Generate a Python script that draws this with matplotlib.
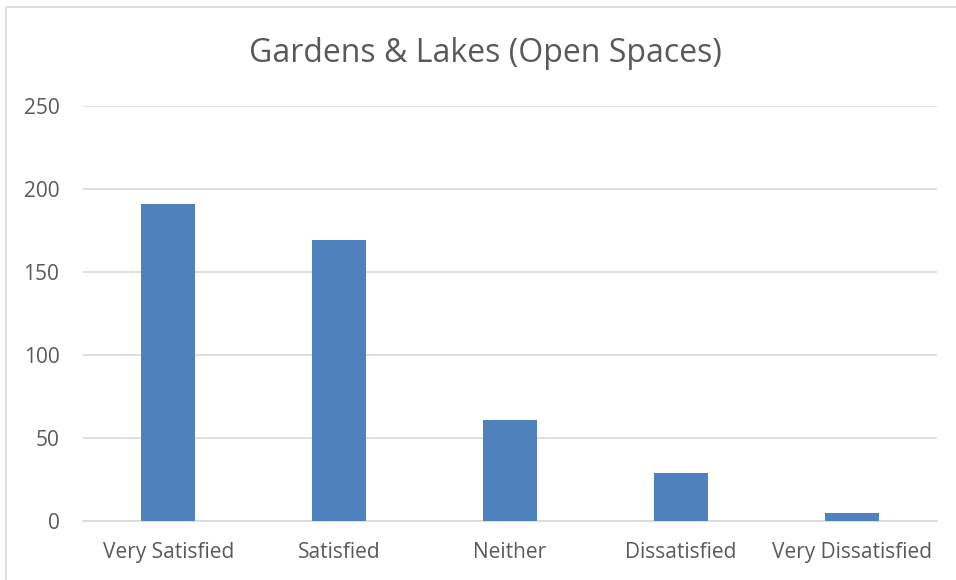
import matplotlib.pyplot as plt
from matplotlib.patches import Rectangle

categories = ['Very Satisfied', 'Satisfied', 'Neither', 'Dissatisfied', 'Very Dissatisfied']
counts = [191, 169, 61, 29, 5]
y_ticks = [0, 50, 100, 150, 200, 250]

plt.rcParams['font.family'] = ['Open Sans', 'DejaVu Sans']
text_color = '#595959'
grid_color = '#D9D9D9'

fig = plt.figure(figsize=(9.56, 5.8), dpi=100)
ax = fig.add_axes([83/956, 1 - 521/580, (937 - 83)/956, (521 - 106)/580])

x = range(len(categories))
ax.bar(x, counts, width=0.316, color='#4F81BD', zorder=3)

ax.set_xlim(-0.5, len(categories) - 0.5)
ax.set_ylim(0, 250)
ax.set_yticks(y_ticks)
ax.set_xticks(list(x))
ax.set_xticklabels(categories)
ax.yaxis.grid(True, color=grid_color, linewidth=1.2, zorder=0)
ax.tick_params(axis='both', length=0, labelsize=15, colors=text_color)
ax.tick_params(axis='y', pad=17)
ax.tick_params(axis='x', pad=15)
for side in ['top', 'right', 'left']:
    ax.spines[side].set_visible(False)
ax.spines['bottom'].set_color(grid_color)
ax.spines['bottom'].set_linewidth(1.2)

fig.text(485/956, 1 - 54/580, 'Gardens & Lakes (Open Spaces)', ha='center', va='center',
         fontsize=23, color=text_color)

# outer chart border
fig.patches.append(Rectangle((6/956, -0.1), 1.1, 1 - 7/580 + 0.1, transform=fig.transFigure,
                             fill=False, edgecolor='#D9D9D9', linewidth=1.2))

fig.savefig('out.png', dpi=100)
